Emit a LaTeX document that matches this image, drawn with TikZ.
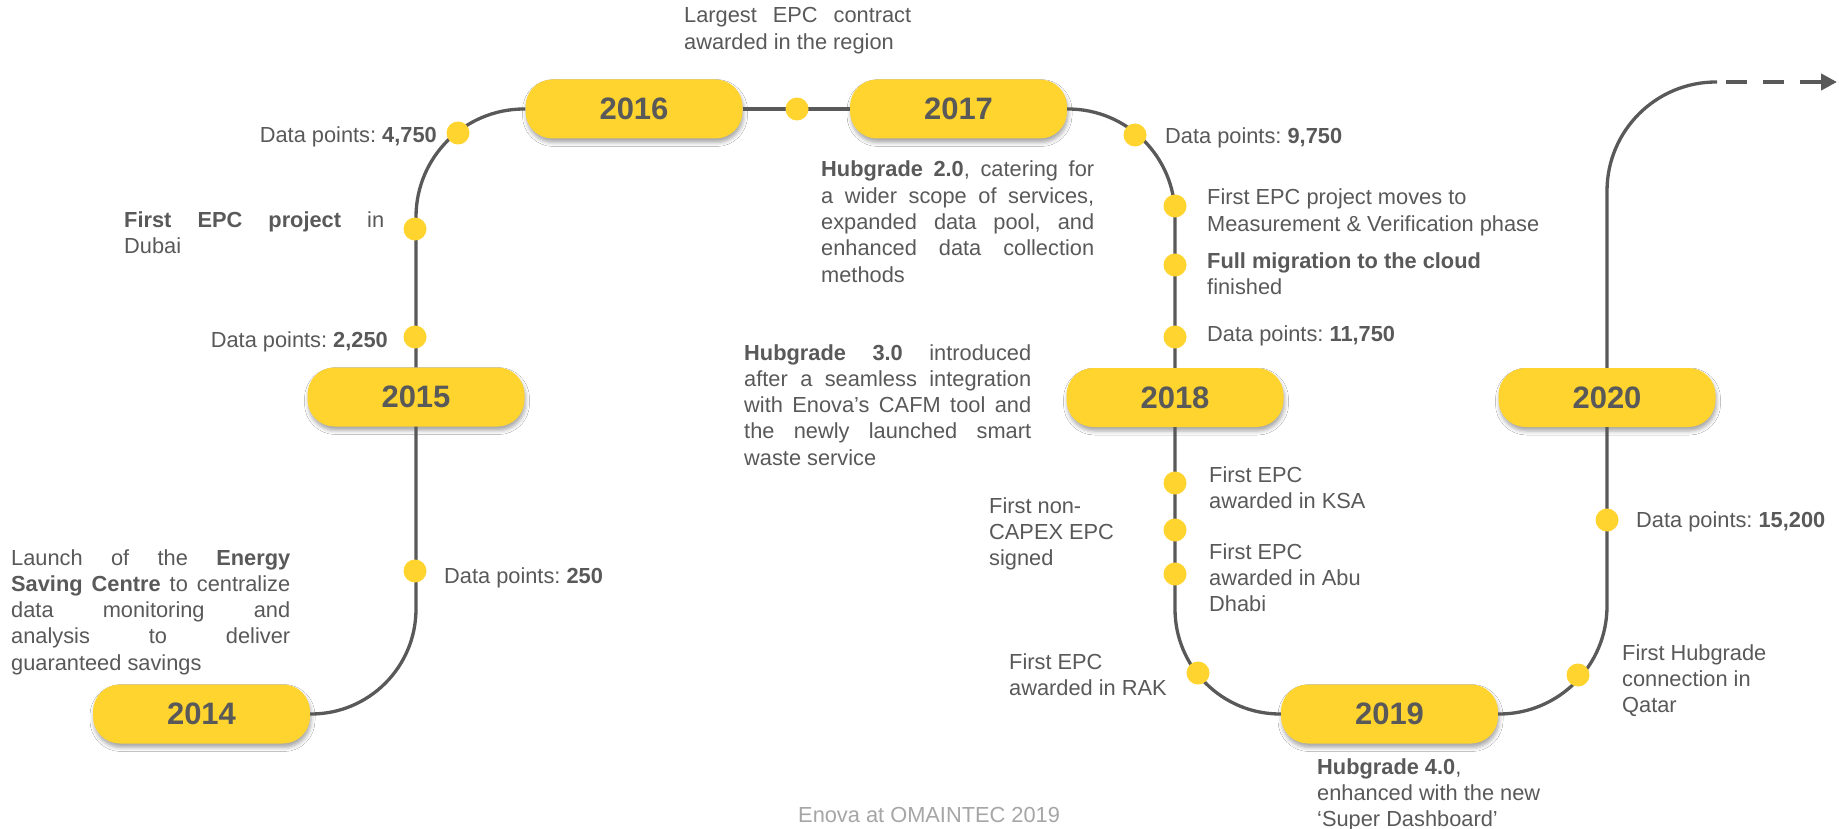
\documentclass[tikz,border=0pt]{standalone}
\usepackage{fontspec}
\setmainfont{Liberation Sans}
\usetikzlibrary{arrows.meta,shadows.blur}
\definecolor{ylw}{HTML}{FFD42F}
\definecolor{txt}{HTML}{595959}
\definecolor{lne}{HTML}{595959}
\definecolor{foot}{HTML}{A6A6A6}
\newcommand{\jl}[2]{\makebox[#1][s]{#2}}
\newcommand{\blk}[1]{\parbox[t]{600pt}{\raggedright #1}}
\hbadness=10000
\frenchspacing
\begin{document}
\begin{tikzpicture}[x=1pt,y=-1pt,
  year/.style={rectangle, rounded corners=27pt, fill=ylw, minimum width=217pt, minimum height=59pt, inner sep=0pt, text=txt, font=\fontsize{31}{36}\selectfont\bfseries, blur shadow={shadow xshift=1pt, shadow yshift=-4pt, shadow blur radius=4pt, shadow opacity=35}},
  dot/.style={circle, fill=ylw, minimum size=23pt, inner sep=0pt},
  lbl/.style={text=txt, font=\fontsize{21.8}{26.3}\selectfont\frenchspacing, inner sep=0pt, anchor=base west},
  lblr/.style={lbl, anchor=base east},
  conn/.style={draw=lne, line width=3.3pt},
]
\fill[white] (0,0) rectangle (1839,829);
\useasboundingbox (0,0) rectangle (1839,829);

% year pills
\node[year] (p2014) at (201.5,714) {2014};
\node[year] (p2015) at (416,397) {2015};
\node[year] (p2016) at (634,109) {2016};
\node[year] (p2017) at (958.5,109) {2017};
\node[year] (p2018) at (1175,397.5) {2018};
\node[year] (p2019) at (1389.5,714) {2019};
\node[year] (p2020) at (1607,397.5) {2020};

% connectors
\draw[conn, rounded corners=105pt] (p2014.east) -| (p2015.south);
\draw[conn, rounded corners=108pt] (p2015.north) |- (p2016.west);
\draw[conn] (p2016.east) -- (p2017.west);
\draw[conn, rounded corners=107pt] (p2017.east) -| (p2018.north);
\draw[conn, rounded corners=105pt] (p2018.south) |- (p2019.west);
\draw[conn, rounded corners=108pt] (p2019.east) -| (p2020.south);
\coordinate (cTurn) at (1717,82);
\coordinate (cEnd) at (1837,82);
\draw[conn, rounded corners=109pt] (p2020.north) |- (cTurn);
\draw[draw=lne, line width=4.7pt, dash pattern=on 21pt off 16pt, dash phase=28pt, -{Triangle[length=16pt,width=16pt]}] (cTurn) -- (cEnd);

% dots
\node[dot] (d250) at (415,571) {};
\node[dot] (d2250) at (415,337) {};
\node[dot] (dDubai) at (415,229) {};
\node[dot] (d4750) at (458,133) {};
\node[dot] (dTop) at (797,109) {};
\node[dot] (d9750) at (1135,135) {};
\node[dot] (dMV) at (1175,206) {};
\node[dot] (dCloud) at (1175,265) {};
\node[dot] (d11750) at (1175,337) {};
\node[dot] (dKSA) at (1175,483) {};
\node[dot] (dCapex) at (1175,530) {};
\node[dot] (dAbu) at (1175,574) {};
\node[dot] (dRAK) at (1198,673) {};
\node[dot] (dQatar) at (1578,675) {};
\node[dot] (d15200) at (1607,520) {};

% labels
\node[lbl] (tLargest) at (684,23) {\blk{\jl{227pt}{Largest EPC contract}\\awarded in the region}};
\node[lblr] (t4750) at (437,143) {Data points: \textbf{4,750}};
\node[lbl] (tDubai) at (124,227) {\blk{\jl{260pt}{\textbf{First EPC project} in}\\Dubai}};
\node[lblr] (t2250) at (388,347) {Data points: \textbf{2,250}};
\node[lbl] (tLaunch) at (11,565) {\blk{\jl{279pt}{Launch of the \textbf{Energy}}\\\jl{279pt}{\textbf{Saving Centre} to centralize}\\\jl{279pt}{data monitoring and}\\\jl{279pt}{analysis to deliver}\\guaranteed savings}};
\node[lbl] (t250) at (444,583) {Data points: \textbf{250}};
\node[lbl] (tHub2) at (821,177) {\blk{\jl{273pt}{\textbf{Hubgrade 2.0}, catering for}\\\jl{273pt}{a wider scope of services,}\\\jl{273pt}{expanded data pool, and}\\\jl{273pt}{enhanced data collection}\\methods}};
\node[lbl] (tHub3) at (744,360) {\blk{\jl{287pt}{\textbf{Hubgrade 3.0} introduced}\\\jl{287pt}{after a seamless integration}\\\jl{287pt}{with Enova’s CAFM tool and}\\\jl{287pt}{the newly launched smart}\\waste service}};
\node[lbl] (t9750) at (1165,144) {Data points: \textbf{9,750}};
\node[lbl] (tMV) at (1207,205) {\blk{First EPC project moves to\\Measurement \& Verification phase}};
\node[lbl] (tCloud) at (1207,268) {\blk{\textbf{Full migration to the cloud}\\finished}};
\node[lbl] (t11750) at (1207,341) {Data points: \textbf{11,750}};
\node[lbl] (tKSA) at (1209,482) {\blk{First EPC\\awarded in KSA}};
\node[lbl] (tCapex) at (989,513) {\blk{First non-\\CAPEX EPC\\signed}};
\node[lbl] (tAbu) at (1209,559) {\blk{First EPC\\awarded in Abu\\Dhabi}};
\node[lbl] (tRAK) at (1009,669) {\blk{First EPC\\awarded in RAK}};
\node[lbl] (tHub4) at (1317,774) {\blk{\textbf{Hubgrade 4.0},\\enhanced with the new\\‘Super Dashboard’}};
\node[lbl] (tQatar) at (1622,660) {\blk{First Hubgrade\\connection in\\Qatar}};
\node[lbl] (t15200) at (1636,527) {Data points: \textbf{15,200}};
\node[lbl, text=foot] (tFoot) at (798,822) {Enova at OMAINTEC 2019};
\end{tikzpicture}
\end{document}
